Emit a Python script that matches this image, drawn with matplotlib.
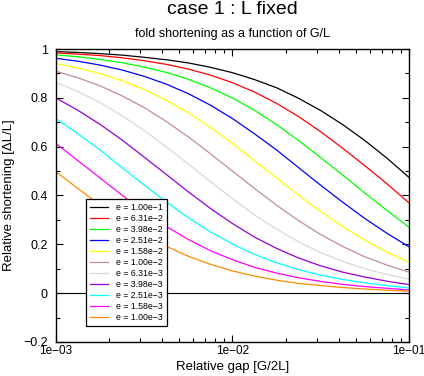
import numpy as np
import matplotlib
matplotlib.use("Agg")
import matplotlib.pyplot as plt
from matplotlib.ticker import LogLocator, NullFormatter, MultipleLocator

plt.rcParams["font.family"] = ["Liberation Sans", "DejaVu Sans"]

# Relative gap G/2L (log spaced, 8 points per decade)
gap = [1.00e-3, 1.33e-3, 1.78e-3, 2.37e-3, 3.16e-3, 4.22e-3, 5.62e-3, 7.50e-3,
       1.00e-2, 1.33e-2, 1.78e-2, 2.37e-2, 3.16e-2, 4.22e-2, 5.62e-2, 7.50e-2, 1.00e-1]

labels = ["e = 1.00e\u22121", "e = 6.31e\u22122", "e = 3.98e\u22122", "e = 2.51e\u22122",
          "e = 1.58e\u22122", "e = 1.00e\u22122", "e = 6.31e\u22123", "e = 3.98e\u22123",
          "e = 2.51e\u22123", "e = 1.58e\u22123", "e = 1.00e\u22123"]

# relative shortening, one list per e
s_e1 = [0.989, 0.986, 0.981, 0.975, 0.966, 0.956, 0.943, 0.925, 0.903,
        0.875, 0.841, 0.798, 0.748, 0.690, 0.625, 0.553, 0.474]
s_e2 = [0.984, 0.979, 0.973, 0.964, 0.952, 0.937, 0.918, 0.893, 0.862,
        0.824, 0.777, 0.723, 0.661, 0.593, 0.522, 0.448, 0.370]
s_e3 = [0.976, 0.968, 0.957, 0.944, 0.926, 0.904, 0.876, 0.841, 0.799,
        0.749, 0.690, 0.625, 0.555, 0.483, 0.410, 0.339, 0.270]
s_e4 = [0.962, 0.950, 0.934, 0.914, 0.888, 0.856, 0.817, 0.770, 0.715,
        0.653, 0.586, 0.514, 0.442, 0.372, 0.306, 0.245, 0.190]
s_e5 = [0.941, 0.922, 0.899, 0.870, 0.834, 0.790, 0.738, 0.679, 0.613,
        0.543, 0.471, 0.401, 0.334, 0.272, 0.217, 0.168, 0.126]
s_e6 = [0.909, 0.882, 0.849, 0.808, 0.760, 0.703, 0.640, 0.571, 0.500,
        0.429, 0.360, 0.297, 0.240, 0.191, 0.149, 0.115, 0.086]
s_e7 = [0.863, 0.826, 0.780, 0.727, 0.666, 0.599, 0.529, 0.457, 0.387,
        0.321, 0.262, 0.210, 0.166, 0.130, 0.100, 0.077, 0.057]
s_e8 = [0.799, 0.749, 0.691, 0.627, 0.557, 0.486, 0.415, 0.347, 0.285,
        0.230, 0.183, 0.144, 0.112, 0.086, 0.066, 0.049, 0.035]
s_e9 = [0.715, 0.653, 0.586, 0.514, 0.443, 0.373, 0.309, 0.251, 0.201,
        0.159, 0.124, 0.096, 0.074, 0.056, 0.042, 0.031, 0.021]
s_e10 = [0.613, 0.543, 0.471, 0.401, 0.334, 0.273, 0.220, 0.174, 0.137,
         0.106, 0.082, 0.063, 0.048, 0.036, 0.027, 0.020, 0.013]
s_e11 = [0.497, 0.429, 0.360, 0.297, 0.240, 0.192, 0.151, 0.118, 0.091,
         0.070, 0.053, 0.040, 0.031, 0.023, 0.017, 0.012, 0.008]

series = [s_e1, s_e2, s_e3, s_e4, s_e5, s_e6, s_e7, s_e8, s_e9, s_e10, s_e11]
colors = ["#000000", "#ff0000", "#00ff00", "#0000ff", "#ffff00", "#bc8f8f",
          "#d8d8d8", "#9400d3", "#00ffff", "#ff00ff", "#ff8c00"]

fig = plt.figure(figsize=(4.24, 3.76), dpi=100)
ax = fig.add_axes([56/424, 1-342/376, (409-56)/424, (342-49)/376])

ax.axhline(0, color="black", lw=0.8)
for s, c, lab in zip(series, colors, labels):
    ax.plot(gap, s, color=c, lw=0.9, label=lab)

ax.set_xscale("log")
ax.set_xlim(1e-3, 1e-1)
ax.set_ylim(-0.2, 1.0)
ax.set_xticks([1e-3, 1e-2, 1e-1])
ax.set_xticklabels(["1e\u221203", "1e\u221202", "1e\u221201"])
ax.xaxis.set_minor_locator(LogLocator(base=10, subs=np.arange(2, 10)))
ax.xaxis.set_minor_formatter(NullFormatter())
ax.set_yticks([-0.2, 0, 0.2, 0.4, 0.6, 0.8, 1.0])
ax.set_yticklabels(["\u22120.2", "0", "0.2", "0.4", "0.6", "0.8", "1"])
ax.yaxis.set_minor_locator(MultipleLocator(0.1))

ax.tick_params(which="both", direction="in", top=True, right=True, labelsize=9, width=0.8)
ax.tick_params(which="major", length=5)
ax.tick_params(which="minor", length=3)
ax.tick_params(axis="x", pad=2, labelsize=8.5)
ax.tick_params(axis="y", pad=6)
for sp in ax.spines.values():
    sp.set_linewidth(1.0)

ax.set_xlabel("Relative gap [G/2L]", fontsize=9.5, labelpad=3)
ax.set_ylabel("Relative shortening [\u0394L/L]", fontsize=9.5, labelpad=6)

fig.text(232.5/424, 1-9/376, "case 1 : L fixed", fontsize=14, ha="center", va="center")
fig.text(232.5/424, 1-34/376, "fold shortening as a function of G/L", fontsize=9,
         ha="center", va="center")

leg = ax.legend(loc="upper left", bbox_to_anchor=(86/424, 1-199/376),
                bbox_transform=fig.transFigure, borderaxespad=0, fontsize=6.3,
                frameon=True, fancybox=False, edgecolor="black", framealpha=1,
                handlelength=2.0, handletextpad=0.9, labelspacing=0.22, borderpad=0.5)
leg.get_frame().set_linewidth(0.9)

fig.savefig("out.png", dpi=100)
